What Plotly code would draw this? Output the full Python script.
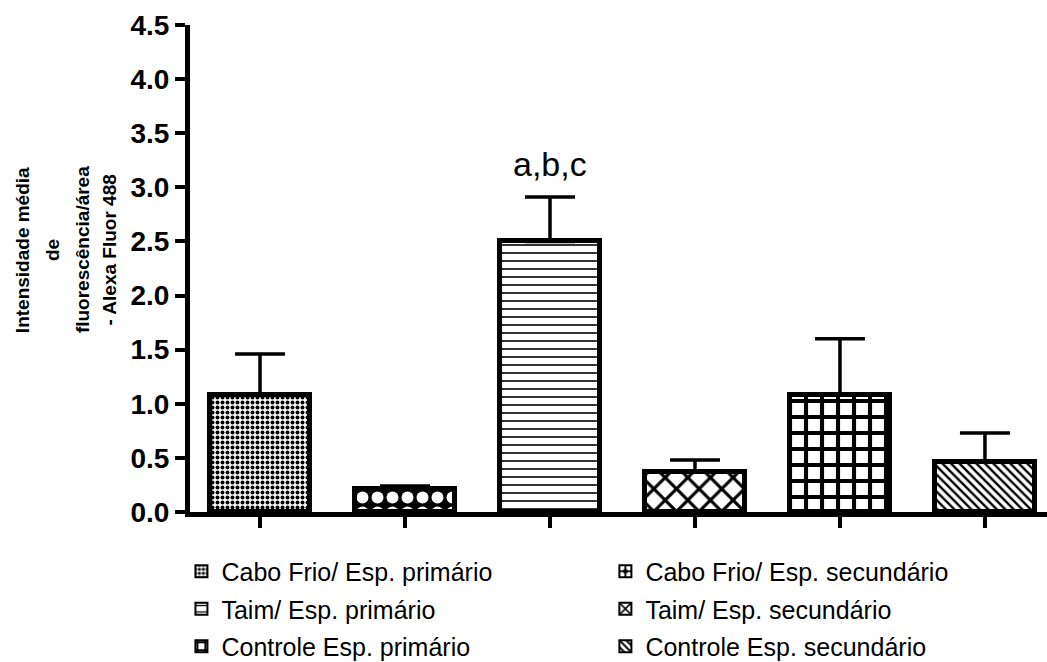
import plotly.graph_objects as go

# Mean fluorescence intensity per area (Alexa Fluor 488) by group
groups = [
    "Cabo Frio/ Esp. primário",
    "Cabo Frio/ Esp. secundário",
    "Taim/ Esp. primário",
    "Taim/ Esp. secundário",
    "Controle Esp. primário",
    "Controle Esp. secundário",
]
means = [1.08, 0.21, 2.50, 0.37, 1.08, 0.46]
sem = [0.38, 0.03, 0.41, 0.11, 0.52, 0.27]

y_ticks = [0.0, 0.5, 1.0, 1.5, 2.0, 2.5, 3.0, 3.5, 4.0, 4.5]
y_title_lines = ["Intensidade média", "de", "fluorescência/área", "- Alexa Fluor 488"]
significance = "a,b,c"

# fill patterns for each group (shape, size, solidity, fg, bg)
patterns = [
    dict(shape=".", size=5, solidity=0.5, fgcolor="black", bgcolor="white"),
    dict(shape=".", size=15, solidity=0.5, fgcolor="white", bgcolor="black"),
    dict(shape="-", size=8, solidity=0.2, fgcolor="black", bgcolor="white"),
    dict(shape="x", size=16, solidity=0.35, fgcolor="black", bgcolor="white"),
    dict(shape="+", size=16, solidity=0.45, fgcolor="black", bgcolor="white"),
    dict(shape="\\", size=6, solidity=0.4, fgcolor="black", bgcolor="white"),
]
legend_of = ["legend", "legend2", "legend", "legend2", "legend", "legend2"]

FONT = "Liberation Sans, Arial, sans-serif"

fig = go.Figure()
for i, name in enumerate(groups):
    fig.add_trace(go.Bar(
        x=[i], y=[means[i]], name=name, width=0.69,
        marker=dict(color="white", line=dict(color="black", width=5),
                    pattern=dict(fillmode="replace", **patterns[i])),
        error_y=dict(type="data", symmetric=False, array=[sem[i]], arrayminus=[0],
                     color="black", thickness=3.5, width=25),
        legend=legend_of[i], legendgroup=name,
    ))

# rotated multi-line y title
for j, line in enumerate(y_title_lines):
    fig.add_annotation(
        text=f"<b>{line}</b>", xref="paper", yref="y",
        x=[-0.196, -0.161, -0.126, -0.094][j], y=2.42,
        textangle=-90, showarrow=False, xanchor="center", yanchor="middle",
        font=dict(family=FONT, size=19, color="black"),
    )

fig.add_annotation(
    text=significance, x=2, y=3.22, xref="x", yref="y", showarrow=False,
    xanchor="center", yanchor="middle",
    font=dict(family=FONT, size=34, color="black"),
)

legend_style = dict(
    font=dict(family=FONT, size=25, color="black"),
    bgcolor="rgba(0,0,0,0)", yanchor="top", xanchor="left",
    tracegroupgap=2, itemsizing="constant", itemclick=False,
)

fig.update_layout(
    width=1047, height=662,
    margin=dict(l=190, r=0, t=25, b=150, autoexpand=False),
    paper_bgcolor="white", plot_bgcolor="white",
    barmode="overlay", bargap=0,
    showlegend=True,
    legend=dict(x=-0.010, y=-0.075, **legend_style),
    legend2=dict(x=0.4847, y=-0.075, **legend_style),
    xaxis=dict(
        range=[-0.483, 5.428], tickvals=list(range(len(groups))), showticklabels=False,
        ticks="outside", ticklen=11, tickwidth=4, tickcolor="black",
        showline=True, linecolor="black", linewidth=5, showgrid=False, zeroline=False,
    ),
    yaxis=dict(
        range=[0, 4.5], tickvals=y_ticks, tickformat=".1f",
        ticks="outside", ticklen=10, tickwidth=4, tickcolor="black",
        showline=True, linecolor="black", linewidth=5, showgrid=False, zeroline=False,
        tickfont=dict(family=FONT, size=28, color="black", weight="bold"),
    ),
)

fig.write_html("out.html")
